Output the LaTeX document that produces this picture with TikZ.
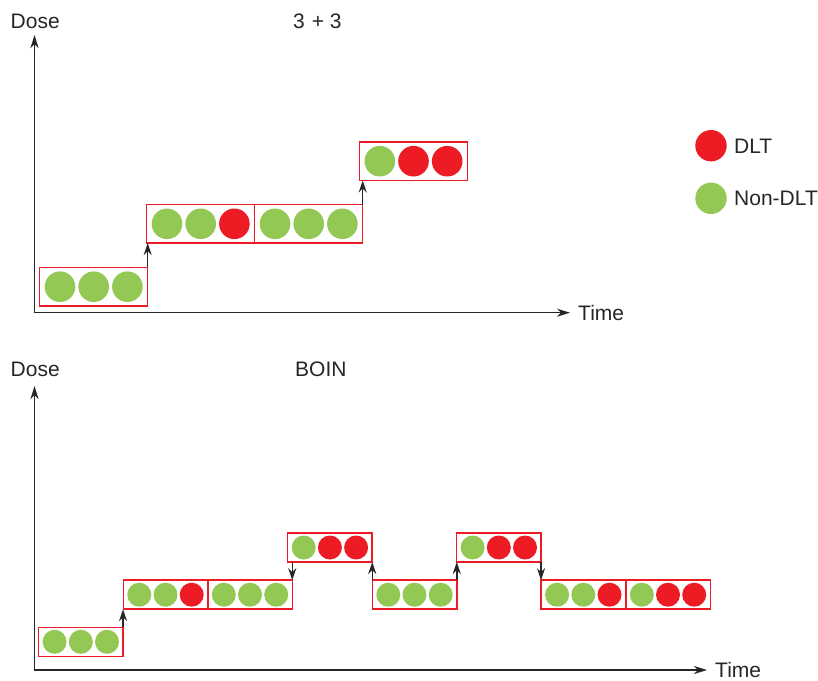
\documentclass[tikz,border=0pt]{standalone}
\usepackage{fontspec}
\setmainfont{Liberation Sans}
\usetikzlibrary{arrows.meta,calc}

\definecolor{dltred}{RGB}{237,28,36}
\definecolor{okgreen}{RGB}{146,200,83}

% one cohort box: #1 name, #2 centre, #3 box style, #4 circle spacing, #5 radius, #6-#8 colours
\newcommand{\cohort}[8]{%
  \node[#3] (#1) at #2 {};
  \fill[#6] ($(#1.center)+(-#4,0)$) circle[radius=#5pt];
  \fill[#7] (#1.center) circle[radius=#5pt];
  \fill[#8] ($(#1.center)+(#4,0)$) circle[radius=#5pt];
  \draw[frame] (#1.south west) rectangle (#1.north east);
}

\tikzset{
  frame/.style={draw=dltred, line width=1.5pt},
  bigbox/.style={rectangle, inner sep=0pt, outer sep=0pt,
    minimum width=108pt, minimum height=38.5pt},
  smallbox/.style={rectangle, inner sep=0pt, outer sep=0pt,
    minimum width=84.5pt, minimum height=29pt},
  axis/.style={line width=1.5pt, draw={black!85},
    {Stealth[length=13pt,width=8pt,inset=4pt]}-{Stealth[length=13pt,width=8pt,inset=4pt]}},
  move/.style={line width=1.5pt, draw={black!85},
    -{Stealth[length=12pt,width=8pt,inset=4pt]}},
  lbl/.style={inner sep=0pt, anchor=base west, text=black!85,
    font=\fontsize{21}{24}\selectfont},
}

\begin{document}
\begin{tikzpicture}[x=1pt, y=-1pt]
  \useasboundingbox (0,0) rectangle (818,680);

  % ---------- 3+3 design ----------
  \coordinate (ytopA) at (34.5,35);
  \coordinate (orgA) at (34.5,312.7);
  \coordinate (xendA) at (570,312.7);
  \draw[axis] (ytopA) -- (orgA) -- (xendA);
  \node[lbl] (doseA) at (10.5,28.3) {Dose};
  \node[lbl] (titleA) at (293,28.3) {3\hspace{7pt}+ 3};
  \node[lbl] (timeA) at (578,320) {Time};

  \cohort{a1}{(93.7,286.7)}{bigbox}{33.7}{15.3}{okgreen}{okgreen}{okgreen}
  \cohort{a2}{(200.7,223.8)}{bigbox}{33.7}{15.3}{okgreen}{okgreen}{dltred}
  \cohort{a3}{(308.7,223.8)}{bigbox}{33.7}{15.3}{okgreen}{okgreen}{okgreen}
  \cohort{a4}{(413.5,161.2)}{bigbox}{33.7}{15.3}{okgreen}{dltred}{dltred}

  \draw[move] (a1.north east) -- (a1.north east |- a2.south);
  \draw[move] (a3.north east) -- (a3.north east |- a4.south);

  % legend
  \fill[dltred] (711,145.7) circle[radius=15.7pt];
  \node[lbl] (legdlt) at (734,153) {DLT};
  \fill[okgreen] (711,198.3) circle[radius=15.7pt];
  \node[lbl] (legnon) at (734,205.6) {Non-DLT};

  % ---------- BOIN design ----------
  \coordinate (ytopB) at (34.5,386);
  \coordinate (orgB) at (34.5,670);
  \coordinate (xendB) at (707,670);
  \draw[axis] (ytopB) -- (orgB) -- (xendB);
  \node[lbl] (doseB) at (10.5,376.3) {Dose};
  \node[lbl] (titleB) at (295,376.3) {BOIN};
  \node[lbl] (timeB) at (715,677) {Time};

  \cohort{b1}{(80.8,641.8)}{smallbox}{26.2}{12}{okgreen}{okgreen}{okgreen}
  \cohort{b2}{(165.5,594.7)}{smallbox}{26.2}{12}{okgreen}{okgreen}{dltred}
  \cohort{b3}{(250,594.7)}{smallbox}{26.2}{12}{okgreen}{okgreen}{okgreen}
  \cohort{b4}{(329.9,547.5)}{smallbox}{26.2}{12}{okgreen}{dltred}{dltred}
  \cohort{b5}{(414.5,594.7)}{smallbox}{26.2}{12}{okgreen}{okgreen}{okgreen}
  \cohort{b6}{(498.8,547.5)}{smallbox}{26.2}{12}{okgreen}{dltred}{dltred}
  \cohort{b7}{(583.3,594.7)}{smallbox}{26.2}{12}{okgreen}{okgreen}{dltred}
  \cohort{b8}{(668,594.7)}{smallbox}{26.2}{12}{okgreen}{dltred}{dltred}

  \draw[move] (b1.north east) -- (b1.north east |- b2.south);
  \draw[move] (b3.north east |- b4.south) -- (b3.north east);
  \draw[move] (b5.north west) -- (b5.north west |- b4.south);
  \draw[move] (b5.north east) -- (b5.north east |- b6.south);
  \draw[move] (b7.north west |- b6.south) -- (b7.north west);
\end{tikzpicture}
\end{document}
